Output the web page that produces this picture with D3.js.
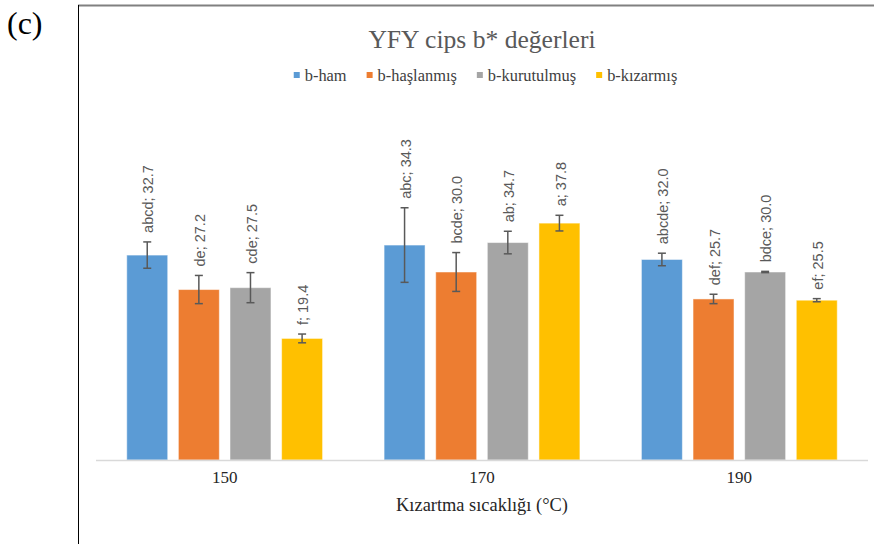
<!DOCTYPE html>
<meta charset="utf-8">
<script src="https://cdn.jsdelivr.net/npm/d3@7"></script>
<style>
 body { margin: 0; background: #fff; }
 svg { display: block; }
</style>
<div id="container"></div>
<script>
 // chart data
 var categories = ["150", "170", "190"];
 var seriesNames = ["b-ham", "b-haşlanmış", "b-kurutulmuş", "b-kızarmış"];
 var hamValues = [32.7, 34.3, 32.0];
 var haslanmisValues = [27.2, 30.0, 25.7];
 var kurutulmusValues = [27.5, 34.7, 30.0];
 var kizarmisValues = [19.4, 37.8, 25.5];
 var hamErrors = [2.1, 5.95, 1.0];
 var haslanmisErrors = [2.25, 3.1, 0.75];
 var kurutulmusErrors = [2.4, 1.8, 0.1];
 var kizarmisErrors = [0.7, 1.25, 0.25];
 var hamLetters = ["abcd", "abc", "abcde"];
 var haslanmisLetters = ["de", "bcde", "def"];
 var kurutulmusLetters = ["cde", "ab", "bdce"];
 var kizarmisLetters = ["f", "a", "ef"];
 var yDomain = [0, 60];

 var colors = ["#5B9BD5", "#ED7D31", "#A5A5A5", "#FFC000"];
 var serif = "'Liberation Serif', 'Times New Roman', serif";
 var sans = "'Liberation Sans', Arial, sans-serif";

 var width = 874, height = 544;
 var plot = {left: 96, right: 868, top: 84, bottom: 460};

 var allValues = [hamValues, haslanmisValues, kurutulmusValues, kizarmisValues];
 var allErrors = [hamErrors, haslanmisErrors, kurutulmusErrors, kizarmisErrors];
 var allLetters = [hamLetters, haslanmisLetters, kurutulmusLetters, kizarmisLetters];

 var rows = [];
 categories.forEach(function(c, ci) {
     seriesNames.forEach(function(s, si) {
         rows.push({cat: c, series: s, si: si,
                    value: allValues[si][ci],
                    err: allErrors[si][ci],
                    letter: allLetters[si][ci]});
     });
 });

 var svg = d3.select("#container").append("svg")
             .attr("width", width)
             .attr("height", height);

 // frame
 svg.append("line")
    .attr("x1", 78).attr("x2", width).attr("y1", 5.5).attr("y2", 5.5)
    .attr("stroke", "#808080").attr("stroke-width", 2);
 svg.append("line")
    .attr("x1", 78.5).attr("x2", 78.5).attr("y1", 5).attr("y2", height)
    .attr("stroke", "#000").attr("stroke-width", 1);

 svg.append("text")
    .attr("x", 7).attr("y", 34)
    .attr("font-family", serif).attr("font-size", 32)
    .attr("fill", "#000")
    .text("(c)");

 var x0 = d3.scaleBand().domain(categories).range([plot.left, plot.right]).paddingInner(0.239).paddingOuter(0.1195);
 var x1 = d3.scaleBand().domain(seriesNames).range([0, x0.bandwidth()]).paddingInner(0.2065).paddingOuter(0);
 var y = d3.scaleLinear().domain(yDomain).range([plot.bottom, plot.top]);

 // title
 svg.append("text")
    .attr("x", (plot.left + plot.right) / 2).attr("y", 48)
    .attr("text-anchor", "middle")
    .attr("font-family", serif).attr("font-size", 25.6)
    .attr("fill", "#595959")
    .text("YFY cips b* değerleri");

 // legend
 var legend = svg.append("g");
 var lx = 0;
 seriesNames.forEach(function(s, i) {
     var item = legend.append("g").attr("transform", "translate(" + lx + ",0)");
     item.append("rect")
         .attr("x", 0).attr("y", 72).attr("width", 6).attr("height", 6)
         .attr("fill", colors[i]);
     var t = item.append("text")
         .attr("x", 11).attr("y", 81)
         .attr("font-family", serif).attr("font-size", 16.4)
         .attr("fill", "#404040")
         .text(s);
     lx += 11 + t.node().getComputedTextLength() + 20;
 });
 var legendWidth = lx - 20;
 legend.attr("transform", "translate(" + (485.5 - legendWidth / 2) + ",0)");

 // bars
 var groups = svg.append("g").selectAll("g")
     .data(rows).enter().append("g")
     .attr("transform", function(d) { return "translate(" + (x0(d.cat) + x1(d.series)) + ",0)"; });

 groups.append("rect")
       .attr("x", 0)
       .attr("y", function(d) { return y(d.value); })
       .attr("width", x1.bandwidth())
       .attr("height", function(d) { return y(0) - y(d.value); })
       .attr("fill", function(d) { return colors[d.si]; })
       .attr("stroke", "#fff").attr("stroke-opacity", 0.5).attr("stroke-width", 1);

 // axis line
 svg.append("line")
    .attr("x1", plot.left).attr("x2", plot.right)
    .attr("y1", plot.bottom + 0.5).attr("y2", plot.bottom + 0.5)
    .attr("stroke", "#d9d9d9").attr("stroke-width", 1.5);

 // error bars
 var bw = x1.bandwidth();
 var errColor = "#595959";
 groups.append("line")
       .attr("x1", bw / 2).attr("x2", bw / 2)
       .attr("y1", function(d) { return y(d.value + d.err); })
       .attr("y2", function(d) { return y(d.value - d.err); })
       .attr("stroke", errColor).attr("stroke-width", 1.5);
 groups.append("line")
       .attr("x1", bw / 2 - 4).attr("x2", bw / 2 + 4)
       .attr("y1", function(d) { return y(d.value + d.err); })
       .attr("y2", function(d) { return y(d.value + d.err); })
       .attr("stroke", errColor).attr("stroke-width", 1.5);
 groups.append("line")
       .attr("x1", bw / 2 - 4).attr("x2", bw / 2 + 4)
       .attr("y1", function(d) { return y(d.value - d.err); })
       .attr("y2", function(d) { return y(d.value - d.err); })
       .attr("stroke", errColor).attr("stroke-width", 1.5);

 // data labels
 groups.append("text")
       .attr("transform", function(d) {
           return "translate(" + (bw / 2 + 1) + "," + (y(d.value + d.err) - 9) + ") rotate(-90)";
       })
       .attr("dy", "0.35em")
       .attr("font-family", sans).attr("font-size", 14.5)
       .attr("fill", "#595959")
       .text(function(d) { return d.letter + "; " + d.value.toFixed(1); });

 // category labels
 svg.append("g").selectAll("text")
    .data(categories).enter().append("text")
    .attr("x", function(d) { return x0(d) + x0.bandwidth() / 2; })
    .attr("y", 483)
    .attr("text-anchor", "middle")
    .attr("font-family", serif).attr("font-size", 17)
    .attr("fill", "#262626")
    .text(function(d) { return d; });

 svg.append("text")
    .attr("x", (plot.left + plot.right) / 2).attr("y", 511)
    .attr("text-anchor", "middle")
    .attr("font-family", serif).attr("font-size", 18.4)
    .attr("fill", "#262626")
    .text("Kızartma sıcaklığı (°C)");
</script>
